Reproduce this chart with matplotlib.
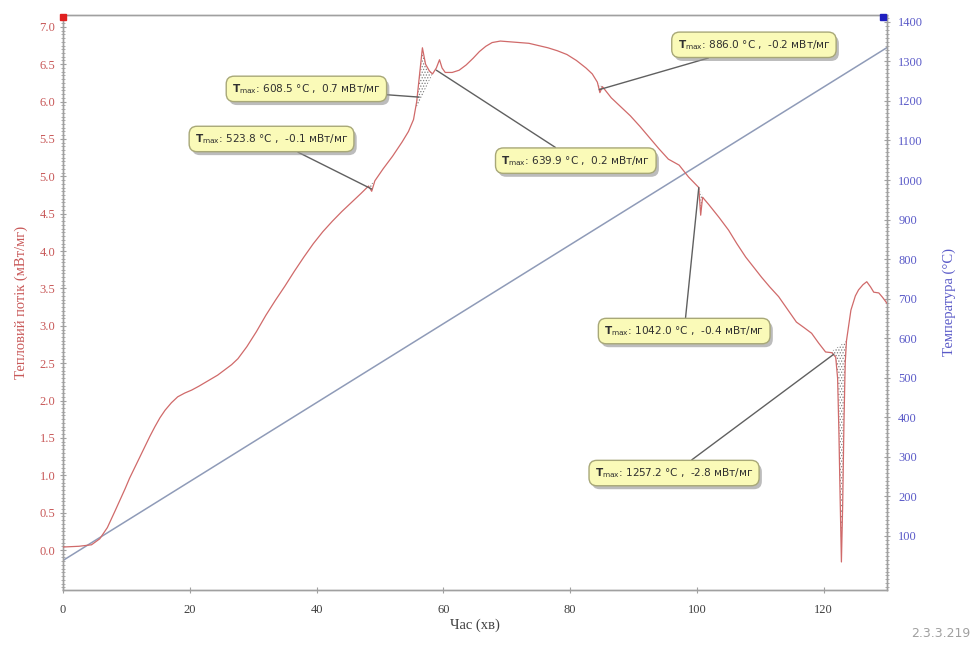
import matplotlib
matplotlib.use('Agg')
import matplotlib.pyplot as plt
import matplotlib.patheffects as pe
from matplotlib.ticker import MultipleLocator
import numpy as np

# ---- data ----
time_min = [0, 2.5, 4.5, 5.8, 7.0, 8.2, 9.0, 9.8, 10.5, 11.3, 12.1, 12.9, 13.7, 14.5, 15.3,
            16.1, 17.1, 18.1, 19.2, 20.3, 21.4, 22.4, 23.4, 24.4, 25.5, 26.6, 27.6,
            29.0, 30.5, 32.0, 33.5, 35.0, 36.5, 38.0, 39.5, 41.0, 42.5, 44.0, 45.5,
            47.0, 48.2, 48.7, 49.2, 50.5, 52.0, 53.5, 54.5, 55.3, 55.8, 56.3, 56.7,
            57.2, 57.8, 58.3, 58.9, 59.4, 59.8, 60.3, 61.4, 62.5, 63.6, 64.7, 65.7,
            66.7, 67.7, 69.0, 70.5, 72.0, 73.5, 75.0, 76.5, 78.0, 79.5, 81.0, 82.5,
            83.5, 84.3, 84.7, 85.1, 86.5, 88.0, 89.5, 91.0, 92.5, 94.0, 95.5, 97.2,
            98.7, 100.3, 100.6, 100.9, 101.9, 103.5, 105.0, 106.3, 107.7, 109.0, 110.2,
            111.5, 112.9, 114.3, 115.7, 117.0, 118.1, 119.2, 120.3, 121.3, 121.9, 122.2,
            122.4, 122.6, 122.8, 123.0, 123.2, 123.4, 123.6, 124.3, 125.0, 125.5, 126.2,
            126.8, 127.4, 127.9, 128.7, 129.3, 130.0]
heat_flow = [0.04, 0.05, 0.07, 0.15, 0.30, 0.52, 0.67, 0.82, 0.96, 1.10, 1.24, 1.38, 1.52, 1.65, 1.77,
             1.87, 1.97, 2.05, 2.10, 2.14, 2.19, 2.24, 2.29, 2.34, 2.41, 2.48, 2.56,
             2.72, 2.92, 3.14, 3.34, 3.53, 3.73, 3.92, 4.10, 4.26, 4.40, 4.53, 4.65,
             4.77, 4.87, 4.80, 4.94, 5.10, 5.27, 5.46, 5.60, 5.76, 6.00, 6.40, 6.72,
             6.50, 6.41, 6.37, 6.45, 6.56, 6.45, 6.39, 6.39, 6.42, 6.49, 6.58, 6.67,
             6.74, 6.79, 6.81, 6.80, 6.79, 6.78, 6.75, 6.72, 6.68, 6.63, 6.55, 6.45,
             6.37, 6.26, 6.12, 6.20, 6.05, 5.93, 5.81, 5.67, 5.52, 5.37, 5.23, 5.15,
             4.99, 4.85, 4.48, 4.72, 4.62, 4.45, 4.28, 4.10, 3.92, 3.78, 3.65,
             3.52, 3.39, 3.22, 3.05, 2.97, 2.90, 2.77, 2.65, 2.64, 2.58, 2.30,
             1.60, 0.70, -0.16, 0.60, 1.70, 2.50, 2.80, 3.21, 3.40, 3.48, 3.55,
             3.59, 3.52, 3.45, 3.44, 3.38, 3.30]

temp_time = [0, 130]
temp_c = [38, 1335]

peak_temps = ['523.8', '608.5', '639.9', '886.0', '1042.0', '1257.2']
peak_flows = ['-0.1', '0.7', '0.2', '-0.2', '-0.4', '-2.8']
peak_t = [48.7, 56.2, 58.9, 84.6, 100.3, 121.6]
peak_v = [4.83, 6.06, 6.42, 6.16, 4.85, 2.62]

x_ticks = [0, 20, 40, 60, 80, 100, 120]
left_ticks = [0.0, 0.5, 1.0, 1.5, 2.0, 2.5, 3.0, 3.5, 4.0, 4.5, 5.0, 5.5, 6.0, 6.5, 7.0]
right_ticks = [100, 200, 300, 400, 500, 600, 700, 800, 900, 1000, 1100, 1200, 1300, 1400]

# ---- layout / style ----
box_pos = [(32.9, 5.50), (38.4, 6.17), (80.9, 5.21), (109.0, 6.76), (98.0, 2.93), (96.4, 1.03)]
hatch_ranges = [(48.2, 49.2), (55.5, 58.3), (84.2, 85.3), (100.3, 101.2), (121.0, 123.6)]

RED = '#d06a6a'
RED_TXT = '#c85858'
BLUE_TXT = '#5a5ac8'
TEMP_COL = '#8f9bb8'
SPINE = '#a0a0a0'

plt.rcParams['hatch.linewidth'] = 0.6
plt.rcParams['hatch.color'] = '#707070'

fig = plt.figure(figsize=(9.78, 6.48), dpi=100)
ax = fig.add_axes([0.0644, 0.0895, 0.8426, 0.8875])
ax2 = ax.twinx()

ax.set_xlim(0, 130)
ax.set_ylim(-0.535, 7.16)
ax2.set_ylim(-36.7, 1417.6)

ax2.plot(temp_time, temp_c, color=TEMP_COL, lw=1.1, zorder=1)

ax.set_zorder(ax2.get_zorder() + 1)
ax.patch.set_visible(False)
ax.plot(time_min, heat_flow, color=RED, lw=0.9, zorder=3)

# hatched peak areas
for t0, t1 in hatch_ranges:
    tt = np.linspace(t0, t1, 300)
    yy = np.interp(tt, time_min, heat_flow)
    base = np.linspace(yy[0], yy[-1], tt.size)
    ax.fill_between(tt, yy, base, facecolor='none', edgecolor='#808080',
                    hatch='......', lw=0, zorder=2)

# annotations
for (bt, bv), pt, pv, tc, fl in zip(box_pos, peak_t, peak_v, peak_temps, peak_flows):
    label = r'$\mathbf{T}_{\mathrm{max}}$' + f': {tc} °C ,  {fl} мВт/мг'
    an = ax.annotate(label, xy=(pt, pv), xytext=(bt, bv), textcoords='data',
                     ha='center', va='center', fontsize=7.6, color='#303030',
                     family='DejaVu Sans',
                     bbox=dict(boxstyle='round,pad=0.55,rounding_size=0.75',
                               fc='#fafab8', ec='#a8a878', lw=1.0),
                     arrowprops=dict(arrowstyle='-', color='#606060', lw=1.0,
                                     shrinkA=0, shrinkB=0),
                     zorder=5)
    an.get_bbox_patch().set_path_effects([
        pe.SimplePatchShadow(offset=(2, -2.5), shadow_rgbFace='#909090', alpha=0.6),
        pe.Normal()])

# axes styling
for a in (ax, ax2):
    for s in a.spines.values():
        s.set_color(SPINE)
        s.set_linewidth(1.0)

ax.set_xticks(x_ticks)
ax.set_yticks(left_ticks)
ax.yaxis.set_minor_locator(MultipleLocator(0.05))
ax2.set_yticks(right_ticks)
ax2.yaxis.set_minor_locator(MultipleLocator(10))

ax.set_yticklabels([f'{v:.1f}' for v in left_ticks])
ax.tick_params(axis='y', which='major', direction='inout', length=4, color=SPINE,
               labelcolor=RED_TXT, labelsize=9)
ax.tick_params(axis='y', which='minor', direction='inout', length=2.5, color=SPINE)
ax.tick_params(axis='x', which='major', direction='inout', length=4, color=SPINE,
               labelcolor='#404040', labelsize=9, pad=8)
ax2.tick_params(axis='y', which='major', direction='inout', length=4, color=SPINE,
                labelcolor=BLUE_TXT, labelsize=9, pad=6)
ax2.tick_params(axis='y', which='minor', direction='inout', length=2.5, color=SPINE)

for lab in ax.get_xticklabels() + ax.get_yticklabels() + ax2.get_yticklabels():
    lab.set_family('Liberation Serif')

ax.set_ylabel('Тепловий потік (мВт/мг)', color=RED_TXT, fontsize=10.5,
              family='Liberation Serif', labelpad=8)
ax2.set_ylabel('Температура (°C)', color=BLUE_TXT, fontsize=10.5,
               family='Liberation Serif', labelpad=14)
ax.set_xlabel('Час (хв)', color='#404040', fontsize=10.5, family='Liberation Serif',
              labelpad=2)

# corner markers
ax.plot([0.0], [0.997], marker='s', ms=4, color='#e02020', transform=ax.transAxes,
        clip_on=False, zorder=6)
ax.plot([0.995], [0.997], marker='s', ms=4, color='#2020c0', transform=ax.transAxes,
        clip_on=False, zorder=6)

fig.text(0.992, 0.023, '2.3.3.219', ha='right', va='center', fontsize=9,
         color='#a0a0a0', family='DejaVu Sans')

fig.savefig('out.png', dpi=100)
